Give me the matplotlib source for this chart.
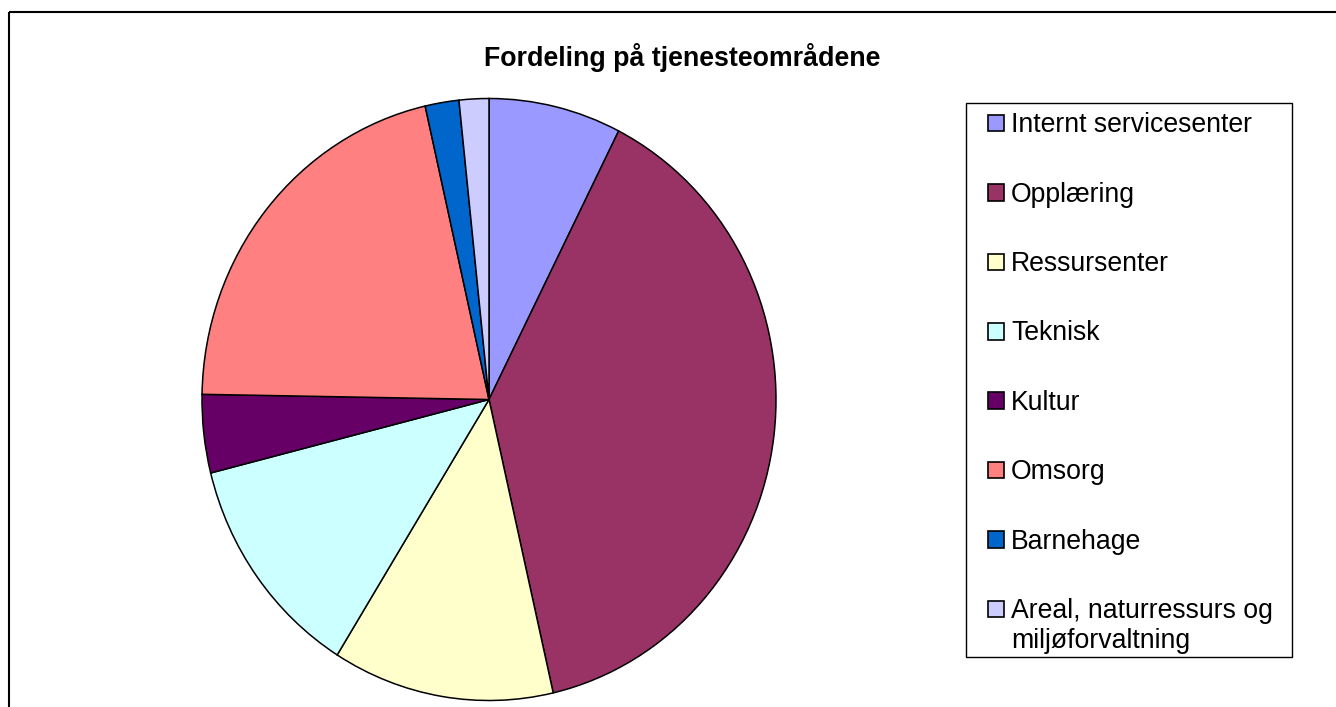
import matplotlib
matplotlib.use("Agg")
import matplotlib.pyplot as plt
from matplotlib.patches import Rectangle

plt.rcParams["font.family"] = ["Liberation Sans", "DejaVu Sans"]

title = "Fordeling på tjenesteområdene"
labels = [
    "Internt servicesenter",
    "Opplæring",
    "Ressursenter",
    "Teknisk",
    "Kultur",
    "Omsorg",
    "Barnehage",
    "Areal, naturressurs og\nmiljøforvaltning",
]
shares = [7.46, 38.94, 12.46, 12.2, 4.2, 21.15, 1.9, 1.67]
colors = ["#9999FF", "#993366", "#FFFFCC", "#CCFFFF",
          "#660066", "#FF8080", "#0066CC", "#CCCCFF"]

W, H = 1336, 707
fig = plt.figure(figsize=(W / 100, H / 100), dpi=100)

# overlay in pixel coordinates for frame, title and legend
over = fig.add_axes([0, 0, 1, 1])
over.set_xlim(0, W)
over.set_ylim(H, 0)
over.axis("off")
over.add_patch(Rectangle((9, 12), W, H, fill=False, edgecolor="black", lw=1.5))

# pie, slightly taller than wide like the original
cx, cy, rx, ry = 489, 399.5, 287, 301
ax = fig.add_axes([(cx - rx) / W, (H - cy - ry) / H, 2 * rx / W, 2 * ry / H])
ax.pie(shares, colors=colors, startangle=90, counterclock=False,
       wedgeprops=dict(edgecolor="black", linewidth=1.1))
ax.set_aspect("auto")
ax.set_xlim(-1, 1)
ax.set_ylim(-1, 1)

over.text(682, 66.5, title, ha="center", va="baseline",
          fontsize=19.3, fontweight="bold")

# legend
over.add_patch(Rectangle((966, 103), 326, 554, fill=False,
                         edgecolor="black", lw=1.0, zorder=3))
y0, step, line_h = 132.3, 69.4, 30
for i, (lab, col) in enumerate(zip(labels, colors)):
    base = y0 + i * step
    over.add_patch(Rectangle((987.5, base - 17.5), 16.5, 16.5, facecolor=col,
                             edgecolor="black", lw=1.2, zorder=3))
    for k, line in enumerate(lab.split("\n")):
        over.text(1011, base + k * line_h, line, ha="left", va="baseline",
                  fontsize=19.2)

fig.savefig("out.png", dpi=100)
